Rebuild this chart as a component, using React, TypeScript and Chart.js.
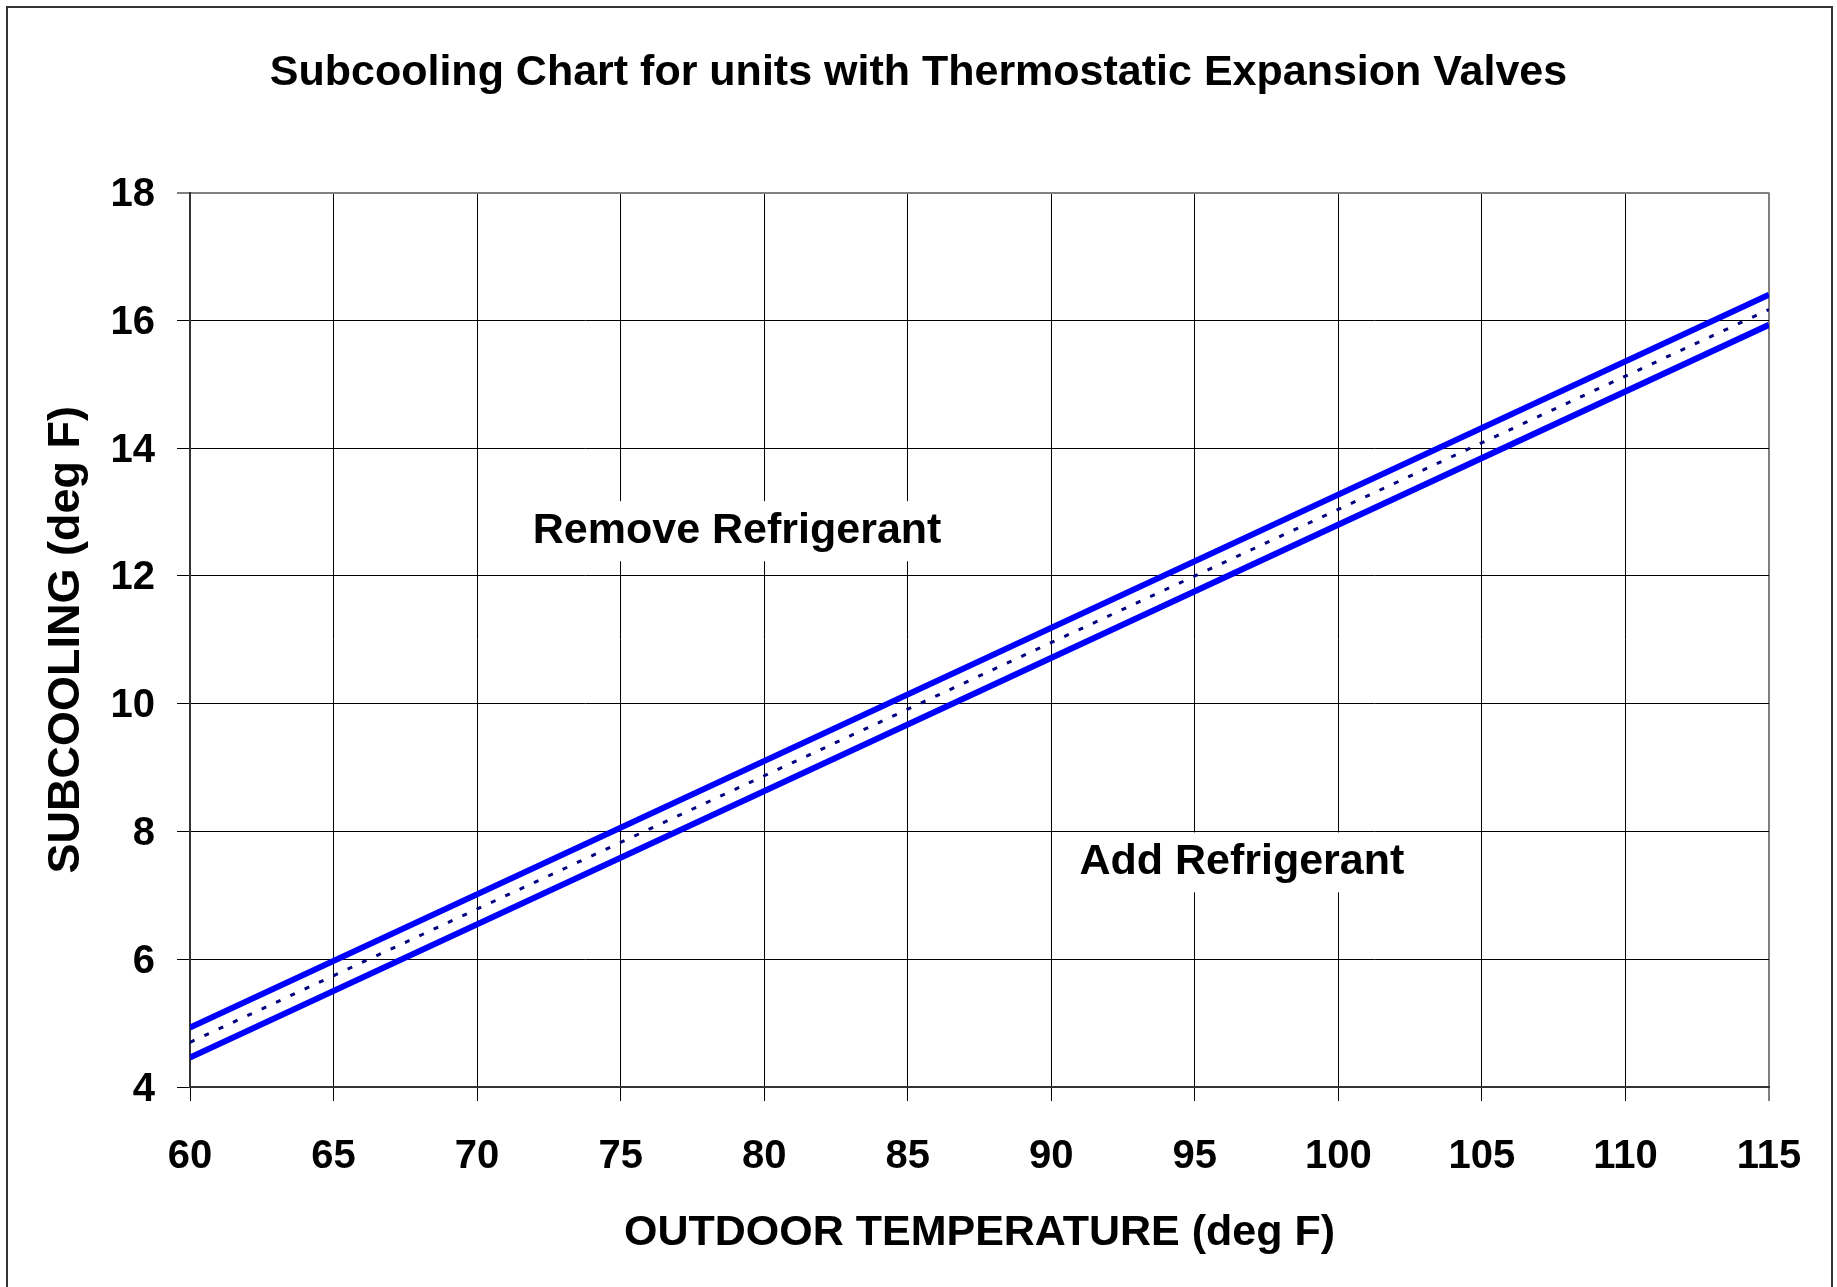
import React, { useEffect, useRef } from "react";
import { Chart, registerables } from "chart.js";

Chart.register(...registerables);

// ---- data ----
const temperatures = [60, 115];
const upperLimit = [4.93, 16.4];
const targetSubcooling = [4.7, 16.17];
const lowerLimit = [4.46, 15.93];

const xTickValues = [60, 65, 70, 75, 80, 85, 90, 95, 100, 105, 110, 115];
const yTickValues = [4, 6, 8, 10, 12, 14, 16, 18];

const regionLabels = ["Remove Refrigerant", "Add Refrigerant"];
const regionLabelTemp = [71.94, 90.98];
const regionLabelSubcool = [12.7, 7.515];

const FONT = "'Liberation Sans', Arial, Helvetica, sans-serif";
const W = 1837;
const H = 1287;

const outerBorderPlugin = {
  id: "outerBorder",
  beforeDraw(chart: any) {
    const ctx = chart.ctx;
    ctx.save();
    ctx.fillStyle = "#ffffff";
    ctx.fillRect(0, 0, chart.width, chart.height);
    ctx.strokeStyle = "#333333";
    ctx.lineWidth = 2;
    ctx.strokeRect(7, 7, 1825, chart.height + 20);
    ctx.restore();
  },
};

const regionLabelPlugin = {
  id: "regionLabels",
  beforeDatasetsDraw(chart: any) {
    const ctx = chart.ctx;
    const xs = chart.scales.x;
    const ys = chart.scales.y;
    ctx.save();
    ctx.font = `bold 43px ${FONT}`;
    ctx.textBaseline = "middle";
    ctx.textAlign = "left";
    regionLabels.forEach((txt, i) => {
      const px = xs.getPixelForValue(regionLabelTemp[i]);
      const py = ys.getPixelForValue(regionLabelSubcool[i]);
      const w = ctx.measureText(txt).width;
      ctx.fillStyle = "#ffffff";
      ctx.fillRect(px - 11, py - 30, w + 46, 60);
      ctx.fillStyle = "#000000";
      ctx.fillText(txt, px, py);
    });
    ctx.restore();
  },
};

export default function App() {
  const canvasRef = useRef<HTMLCanvasElement | null>(null);

  useEffect(() => {
    const canvas = canvasRef.current;
    if (!canvas) return;
    const toPts = (ys: number[]) => temperatures.map((t, i) => ({ x: t, y: ys[i] }));

    const chart = new Chart(canvas, {
      type: "line",
      data: {
        datasets: [
          {
            label: "Upper",
            data: toPts(upperLimit),
            borderColor: "#0000ff",
            borderWidth: 6,
            pointRadius: 0,
            fill: false,
            clip: 0,
          },
          {
            label: "Target",
            data: toPts(targetSubcooling),
            borderColor: "#000080",
            borderWidth: 3,
            borderDash: [5, 10.8],
            pointRadius: 0,
            fill: false,
            clip: 0,
          },
          {
            label: "Lower",
            data: toPts(lowerLimit),
            borderColor: "#0000ff",
            borderWidth: 6,
            pointRadius: 0,
            fill: false,
            clip: 0,
          },
        ],
      },
      options: {
        responsive: false,
        animation: false,
        devicePixelRatio: 1,
        layout: { padding: { top: 0, left: 0, right: 0, bottom: 0 } },
        plugins: {
          legend: { display: false },
          tooltip: { enabled: false },
          title: {
            display: true,
            text: "Subcooling Chart for units with Thermostatic Expansion Valves",
            color: "#000",
            font: { family: FONT, size: 43, weight: "bold" },
            padding: { top: 47.5, bottom: 93.5 },
          },
        },
        scales: {
          x: {
            type: "linear",
            min: 60,
            max: 115,
            afterBuildTicks: (s: any) => {
              s.ticks = xTickValues.map((v) => ({ value: v }));
            },
            afterFit: (s: any) => {
              s.height = 200;
            },
            grid: {
              color: (c: any) => (c.tick && c.tick.value === 115 ? "#808080" : "#000000"),
              lineWidth: (c: any) => (c.tick && c.tick.value === 115 ? 2 : 1),
              tickLength: 14,
              tickColor: "#000000",
              tickWidth: 1,
            },
            border: { color: "#333333", width: 2 },
            ticks: {
              autoSkip: false,
              maxRotation: 0,
              color: "#000",
              padding: 32,
              font: { family: FONT, size: 40, weight: "bold" },
            },
            title: {
              display: true,
              text: "OUTDOOR TEMPERATURE (deg F)",
              color: "#000",
              font: { family: FONT, size: 43, weight: "bold" },
              padding: { top: 0, bottom: 28 },
            },
          },
          y: {
            type: "linear",
            min: 4,
            max: 18,
            afterBuildTicks: (s: any) => {
              s.ticks = yTickValues.map((v) => ({ value: v }));
            },
            afterFit: (s: any) => {
              s.width = 190;
            },
            grid: {
              color: (c: any) => (c.tick && c.tick.value === 18 ? "#808080" : "#000000"),
              lineWidth: (c: any) => (c.tick && c.tick.value === 18 ? 2 : 1),
              tickLength: 13,
              tickColor: "#000000",
              tickWidth: 1,
            },
            border: { color: "#333333", width: 2 },
            ticks: {
              autoSkip: false,
              color: "#000",
              padding: 22,
              labelOffset: 2.5,
              font: { family: FONT, size: 40, weight: "bold" },
            },
            title: {
              display: true,
              text: "SUBCOOLING (deg F)",
              color: "#000",
              font: { family: FONT, size: 45, weight: "bold" },
              padding: { top: 40, bottom: 0 },
            },
          },
          rightSpace: {
            type: "linear",
            position: "right",
            min: 4,
            max: 18,
            afterFit: (s: any) => {
              s.width = 68;
            },
            grid: { display: false, drawTicks: false },
            border: { display: false },
            ticks: { display: false },
            title: { display: false },
          },
        },
      },
      plugins: [outerBorderPlugin, regionLabelPlugin],
    } as any);

    return () => {
      chart.destroy();
    };
  }, []);

  return (
    <div
      style={{
        position: "absolute",
        left: 0,
        top: 0,
        width: W,
        height: H,
        background: "#ffffff",
        overflow: "hidden",
      }}
    >
      <canvas ref={canvasRef} width={W} height={H} style={{ width: W, height: H, display: "block" }} />
    </div>
  );
}
